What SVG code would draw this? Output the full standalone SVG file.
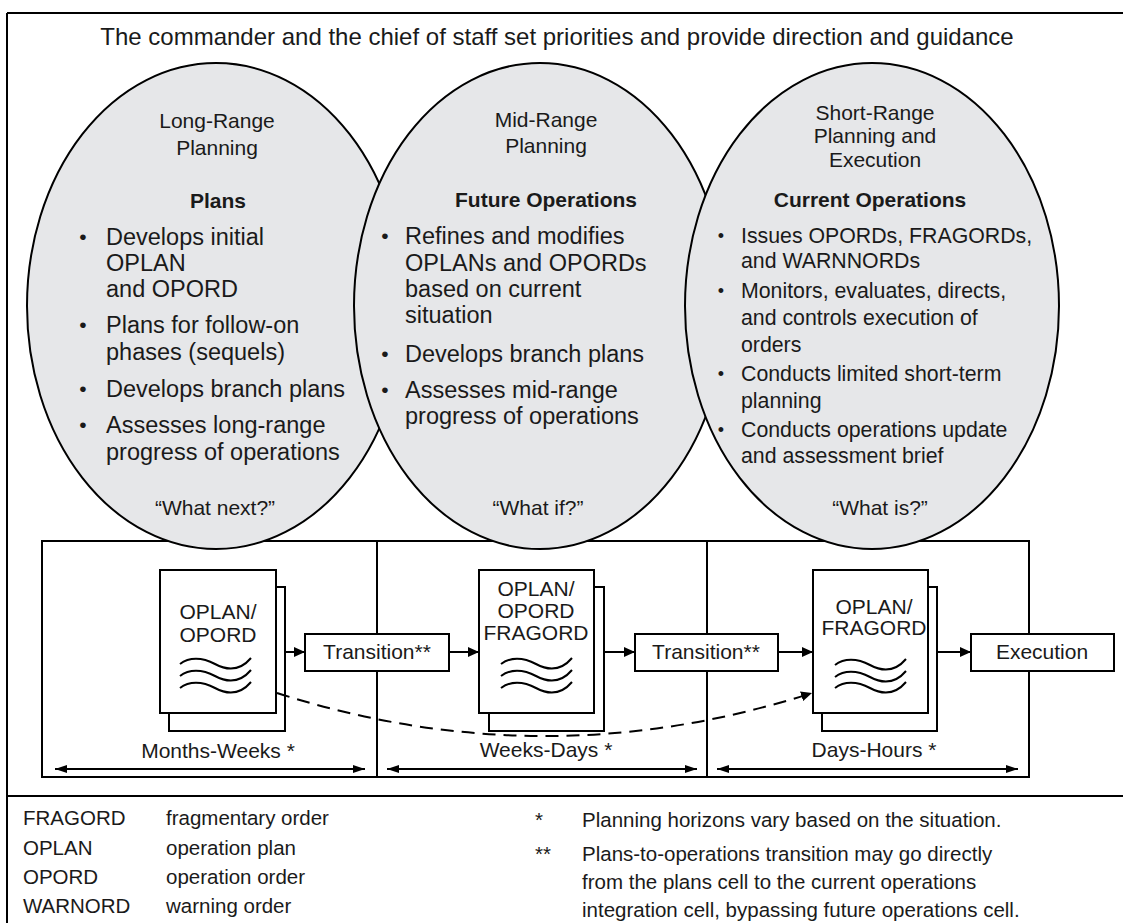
<svg xmlns="http://www.w3.org/2000/svg" width="1123" height="923" viewBox="0 0 1123 923">
<style>
text{font-family:"Liberation Sans",Arial,Helvetica,sans-serif;fill:#1a1a1a}
.title{font-size:24px}
.h{font-size:21px;text-anchor:middle}
.hb{font-size:21px;font-weight:bold;text-anchor:middle}
.b{font-size:23.5px}
.bs{font-size:21.3px}
.dot{font-size:21px;text-anchor:middle}
.dots{font-size:18px;text-anchor:middle}
.lbl{font-size:21px;text-anchor:middle}
.leg{font-size:20.5px}
.ell{fill:#e6e7e9;stroke:#000;stroke-width:2}
.ln{stroke:#000;stroke-width:2;fill:none}
.pg{fill:#fff;stroke:#000;stroke-width:2}
.wv{fill:none;stroke:#000;stroke-width:2}
.bx{fill:#fff;stroke:#000;stroke-width:2}
</style>
<defs>
<marker id="ah" markerWidth="11" markerHeight="10" refX="11" refY="5" orient="auto" markerUnits="userSpaceOnUse"><path d="M0,0 L11,5 L0,10 z" fill="#000"/></marker>
<marker id="ah2" markerWidth="12" markerHeight="8" refX="12" refY="4" orient="auto-start-reverse" markerUnits="userSpaceOnUse"><path d="M0,0 L12,4 L0,8 z" fill="#000"/></marker>
<path id="wave" d="M0,0 C9,-7 22,-7 35,0 S60,7 71,-6"/>
</defs>

<rect width="1123" height="923" fill="#fff"/>

<g id="frame">
<path class="ln" d="M7,13 H1123 M7,13 V923 M7,796 H1123"/>
</g>

<text id="title" class="title" x="557" y="45" text-anchor="middle">The commander and the chief of staff set priorities and provide direction and guidance</text>

<g id="timeline">
<rect x="42" y="541" width="987" height="236" fill="none" stroke="#000" stroke-width="2"/>
<path class="ln" d="M377,541 V777 M707,541 V777"/>
</g>

<g id="long-range">
<ellipse class="ell" cx="216" cy="306" rx="189" ry="243"/>
<text class="h" x="217" y="128">Long-Range</text>
<text class="h" x="217" y="155">Planning</text>
<text class="hb" x="218" y="208">Plans</text>
<text class="dot" x="83" y="244">•</text>
<text class="b" x="106" y="245">Develops initial</text>
<text class="b" x="106" y="271">OPLAN</text>
<text class="b" x="106" y="297">and OPORD</text>
<text class="dot" x="83" y="332">•</text>
<text class="b" x="106" y="333">Plans for follow-on</text>
<text class="b" x="106" y="360">phases (sequels)</text>
<text class="dot" x="83" y="396">•</text>
<text class="b" x="106" y="397">Develops branch plans</text>
<text class="dot" x="83" y="432">•</text>
<text class="b" x="106" y="433">Assesses long-range</text>
<text class="b" x="106" y="460">progress of operations</text>
<text class="h" x="215" y="515">“What next?”</text>
</g>

<g id="mid-range">
<ellipse class="ell" cx="540" cy="306" rx="186" ry="243"/>
<text class="h" x="546" y="127">Mid-Range</text>
<text class="h" x="546" y="153">Planning</text>
<text class="hb" x="546" y="207">Future Operations</text>
<text class="dot" x="385" y="243">•</text>
<text class="b" x="405" y="244">Refines and modifies</text>
<text class="b" x="405" y="271">OPLANs and OPORDs</text>
<text class="b" x="405" y="297">based on current</text>
<text class="b" x="405" y="323">situation</text>
<text class="dot" x="385" y="361">•</text>
<text class="b" x="405" y="362">Develops branch plans</text>
<text class="dot" x="385" y="397">•</text>
<text class="b" x="405" y="398">Assesses mid-range</text>
<text class="b" x="405" y="424">progress of operations</text>
<text class="h" x="538" y="515">“What if?”</text>
</g>

<g id="short-range">
<ellipse class="ell" cx="872" cy="306" rx="187" ry="243"/>
<text class="h" x="875" y="120">Short-Range</text>
<text class="h" x="875" y="143">Planning and</text>
<text class="h" x="875" y="167">Execution</text>
<text class="hb" x="870" y="207">Current Operations</text>
<text class="dots" x="721" y="242">•</text>
<text class="bs" x="741" y="243">Issues OPORDs, FRAGORDs,</text>
<text class="bs" x="741" y="268">and WARNNORDs</text>
<text class="dots" x="721" y="297">•</text>
<text class="bs" x="741" y="298">Monitors, evaluates, directs,</text>
<text class="bs" x="741" y="325">and controls execution of</text>
<text class="bs" x="741" y="352">orders</text>
<text class="dots" x="721" y="380">•</text>
<text class="bs" x="741" y="381">Conducts limited short-term</text>
<text class="bs" x="741" y="408">planning</text>
<text class="dots" x="721" y="436">•</text>
<text class="bs" x="741" y="437">Conducts operations update</text>
<text class="bs" x="741" y="463">and assessment brief</text>
<text class="h" x="880" y="515">“What is?”</text>
</g>

<g id="doc-plans">
<rect class="pg" x="169" y="587" width="116" height="144"/>
<rect class="pg" x="160" y="570" width="116" height="143"/>
<text class="lbl" x="218" y="619">OPLAN/</text>
<text class="lbl" x="218" y="642">OPORD</text>
<use href="#wave" class="wv" x="180" y="664"/>
<use href="#wave" class="wv" x="180" y="676"/>
<use href="#wave" class="wv" x="180" y="688"/>
</g>

<g id="transition-1">
<rect class="bx" x="305" y="634" width="144" height="37"/>
<text class="lbl" x="377" y="659">Transition**</text>
</g>

<g id="doc-future">
<rect class="pg" x="489" y="587" width="115" height="144"/>
<rect class="pg" x="479" y="570" width="115" height="143"/>
<text class="lbl" x="536" y="596">OPLAN/</text>
<text class="lbl" x="536" y="618">OPORD</text>
<text class="lbl" x="536" y="640">FRAGORD</text>
<use href="#wave" class="wv" x="501" y="664"/>
<use href="#wave" class="wv" x="501" y="676"/>
<use href="#wave" class="wv" x="501" y="688"/>
</g>

<g id="transition-2">
<rect class="bx" x="635" y="634" width="143" height="37"/>
<text class="lbl" x="706" y="659">Transition**</text>
</g>

<g id="doc-current">
<rect class="pg" x="822" y="587" width="115" height="144"/>
<rect class="pg" x="813" y="570" width="115" height="143"/>
<text class="lbl" x="874" y="614">OPLAN/</text>
<text class="lbl" x="874" y="635">FRAGORD</text>
<use href="#wave" class="wv" x="835" y="665"/>
<use href="#wave" class="wv" x="835" y="677"/>
<use href="#wave" class="wv" x="835" y="688"/>
</g>

<g id="execution">
<rect class="bx" x="971" y="634" width="143" height="37"/>
<text class="lbl" x="1042" y="659">Execution</text>
</g>

<g id="connectors">
<path class="ln" d="M285,652 H305" marker-end="url(#ah)"/>
<path class="ln" d="M449,652 H479" marker-end="url(#ah)"/>
<path class="ln" d="M604,652 H635" marker-end="url(#ah)"/>
<path class="ln" d="M778,652 H813" marker-end="url(#ah)"/>
<path class="ln" d="M937,652 H971" marker-end="url(#ah)"/>
<path class="ln" d="M277,693 Q545,779 812,693" stroke-dasharray="13 8" marker-end="url(#ah)"/>
</g>

<g id="horizons">
<path class="ln" d="M55,769 H365" marker-start="url(#ah2)" marker-end="url(#ah2)"/>
<path class="ln" d="M387,769 H697" marker-start="url(#ah2)" marker-end="url(#ah2)"/>
<path class="ln" d="M717,769 H1018" marker-start="url(#ah2)" marker-end="url(#ah2)"/>
<text class="lbl" x="218" y="758">Months-Weeks *</text>
<text class="lbl" x="546" y="757">Weeks-Days *</text>
<text class="lbl" x="874" y="757">Days-Hours *</text>
</g>

<g id="legend">
<text class="leg" x="23" y="825">FRAGORD</text>
<text class="leg" x="166" y="825">fragmentary order</text>
<text class="leg" x="23" y="855">OPLAN</text>
<text class="leg" x="166" y="855">operation plan</text>
<text class="leg" x="23" y="884">OPORD</text>
<text class="leg" x="166" y="884">operation order</text>
<text class="leg" x="23" y="913">WARNORD</text>
<text class="leg" x="166" y="913">warning order</text>
<text class="leg" x="535" y="827">*</text>
<text class="leg" x="535" y="861">**</text>
<text class="leg" x="582" y="827">Planning horizons vary based on the situation.</text>
<text class="leg" x="582" y="861">Plans-to-operations transition may go directly</text>
<text class="leg" x="582" y="889">from the plans cell to the current operations</text>
<text class="leg" x="582" y="917">integration cell, bypassing future operations cell.</text>
</g>
</svg>
